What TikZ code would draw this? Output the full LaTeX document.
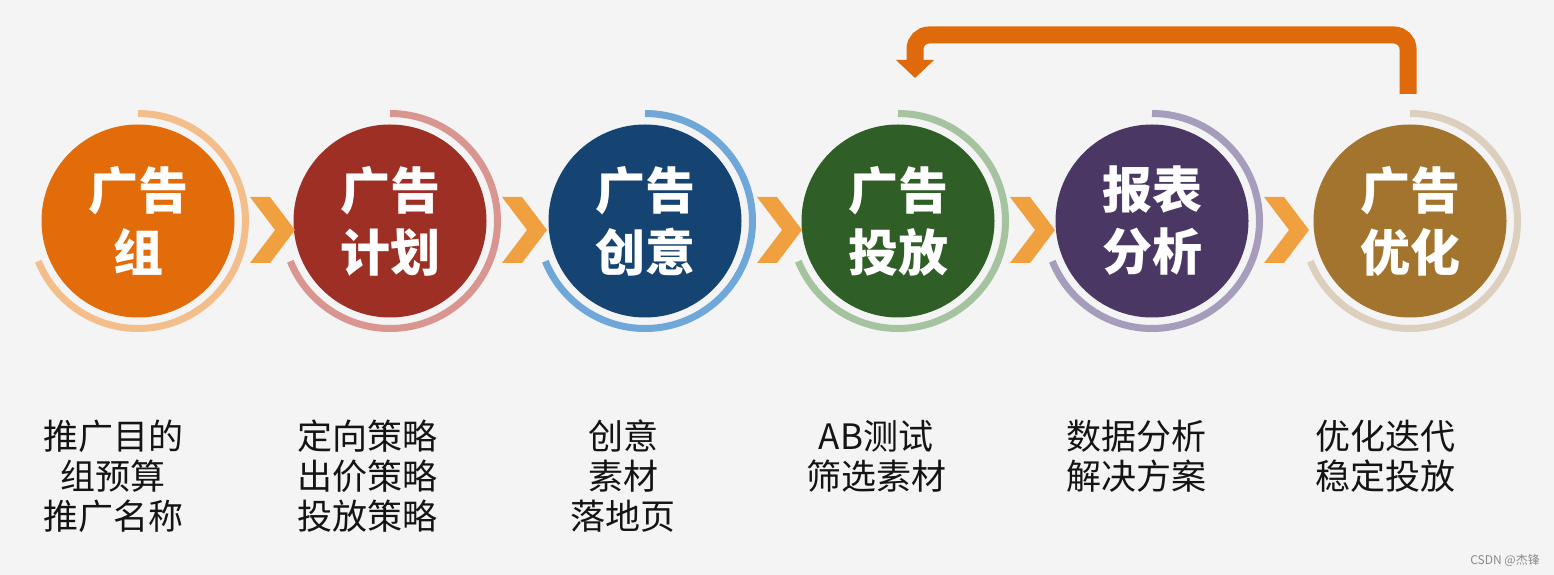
\documentclass[tikz,border=0pt]{standalone}
\usepackage{fontspec}
\newfontfamily\cjk{Noto Sans CJK SC}
\usetikzlibrary{arrows.meta,calc}
\definecolor{bg}{HTML}{F4F4F4}
\definecolor{cA}{HTML}{E36C0A}\definecolor{aA}{HTML}{F4BE8A}
\definecolor{cB}{HTML}{9E2F24}\definecolor{aB}{HTML}{D99690}
\definecolor{cC}{HTML}{154472}\definecolor{aC}{HTML}{6FA7D8}
\definecolor{cD}{HTML}{2F5E27}\definecolor{aD}{HTML}{A6C3A0}
\definecolor{cE}{HTML}{4A3763}\definecolor{aE}{HTML}{A69CBB}
\definecolor{cF}{HTML}{A2742D}\definecolor{aF}{HTML}{DCCFBD}
\definecolor{chevc}{HTML}{F0A03E}
\definecolor{loopc}{HTML}{DF6A0C}
\definecolor{wm}{HTML}{8A8A8A}
\tikzset{
  stage/.style={circle,fill=#1,minimum size=193pt,inner sep=0pt,text=white,
    align=center,font=\cjk\bfseries\fontsize{50}{62}\selectfont},
  ring/.style={draw=#1,line width=7pt},
  chev/.style={fill=chevc},
  lbl/.style={anchor=north,inner sep=0pt,align=center,text=black!92,
    font=\cjk\fontsize{35}{40}\selectfont},
  loop/.style={draw=loopc,line width=17pt,rounded corners=14pt,
    -{Triangle[length=18pt,width=37pt]}},
}
\begin{document}
\begin{tikzpicture}[x=1pt,y=1pt]
\useasboundingbox (0,0) rectangle (1554,575);
\fill[bg] (0,0) rectangle (1554,575);
% stages
\node[stage=cA] (c1) at (138,354) {广告\\组};
\node[stage=cB] (c2) at (390,354) {广告\\计划};
\node[stage=cC] (c3) at (645,354) {广告\\创意};
\node[stage=cD] (c4) at (898,354) {广告\\投放};
\node[stage=cE] (c5) at (1152,354) {报表\\分析};
\node[stage=cF] (c6) at (1410,354) {广告\\优化};
% rings
\foreach \c/\col in {c1/aA,c2/aB,c3/aC,c4/aD,c5/aE,c6/aF}{
  \draw[ring=\col] ($(\c.center)+(90:107.5)$) arc[start angle=90,end angle=-158,radius=107.5];
}
% chevrons
\foreach \c in {c1,c2,c3,c4,c5}{
  \fill[chev] ($(\c.center)+(112,-9)$) ++(0,33) -- ++(20,0) -- ++(25,-33) -- ++(-25,-33)
     -- ++(-20,0) -- ++(25,33) -- cycle;
}
% feedback arrow
\coordinate (fbS) at ($(c6.center)+(-2,127)$);
\coordinate (fbE) at ($(c4.center)+(17,143)$);
\draw[loop] (fbS) -- (fbS |- 0,540) -- (fbE |- 0,540) -- (fbE);
% labels
\node[lbl] (t1) at ($(c1.center)+(-25,-199)$) {推广目的\\组预算\\推广名称};
\node[lbl] (t2) at ($(c2.center)+(-23,-199)$) {定向策略\\出价策略\\投放策略};
\node[lbl] (t3) at ($(c3.center)+(-22,-199)$) {创意\\素材\\落地页};
\node[lbl] (t4) at ($(c4.center)+(-22,-199)$) {AB测试\\筛选素材};
\node[lbl] (t5) at ($(c5.center)+(-16,-199)$) {数据分析\\解决方案};
\node[lbl] (t6) at ($(c6.center)+(-25,-199)$) {优化迭代\\稳定投放};
% watermark
\node[text=wm,font=\cjk\fontsize{12}{14}\selectfont,inner sep=0pt] (wmk) at (1505,15) {CSDN @杰锋};
\end{tikzpicture}
\end{document}
